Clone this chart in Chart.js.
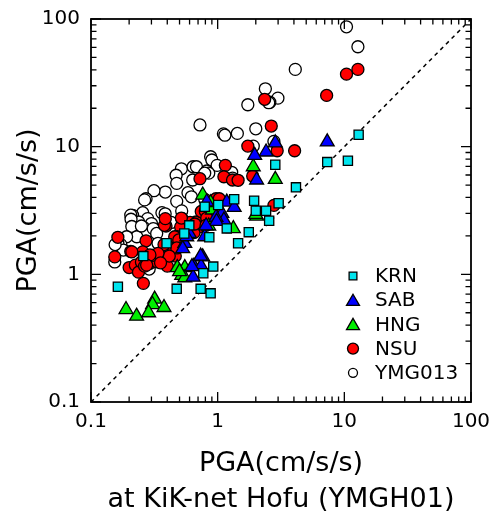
<!DOCTYPE html>
<html>
<head>
<meta charset="utf-8">
<script src="https://cdn.jsdelivr.net/npm/chart.js@4/dist/chart.umd.min.js"></script>
<style>
  html, body { margin: 0; padding: 0; background: #fff; }
  canvas { display: block; }
</style>
</head>
<body>
<canvas id="c" width="492" height="512"></canvas>
<script>
// ---- data (x = PGA at KiK-net Hofu, y = PGA at station), cm/s/s ----
const seriesNames = ['KRN', 'SAB', 'HNG', 'NSU', 'YMG013'];
const tickValues = [0.1, 1, 10, 100];
const xTitle = ['PGA(cm/s/s)', 'at KiK-net Hofu (YMGH01)'];
const yTitle = 'PGA(cm/s/s)';

const KRN = [
  [0.163,0.80],[1.35,3.87],[1.94,3.77],[2.0,3.15],[2.41,3.15],[2.55,2.63],[1.76,2.14],
  [1.45,1.75],[0.259,1.39],[0.395,1.75],[0.597,2.42],[0.545,2.09],[0.859,1.95],[0.923,1.15],
  [0.77,1.02],[0.475,0.77],[0.734,0.77],[0.88,0.71],[0.79,3.38],[1.01,3.49],[1.18,2.29],
  [2.85,7.21],[4.15,4.8],[3.03,3.6],[12.97,12.4],[10.67,7.76],[7.33,7.57]
];
const SAB = [
  [7.33,10.9],[2.85,10.7],[2.41,9.08],[1.96,8.55],[2.03,5.48],[1.18,3.68],[1.35,3.35],
  [1.08,3.0],[1.12,2.66],[0.97,2.8],[0.98,2.6],[0.597,2.09],[0.79,1.97],[0.55,1.75],
  [0.53,1.59],[0.762,1.37],[0.65,1.16],[0.74,1.16],[0.64,0.95],[0.57,1.97],[0.734,1.39],
  [0.627,1.15],[0.81,2.4],[0.82,3.7]
];
const HNG = [
  [2.85,5.55],[1.91,6.96],[2.03,2.86],[0.91,3.19],[0.762,4.18],[0.88,3.64],[1.33,2.28],
  [0.85,2.39],[0.48,1.13],[0.55,1.13],[0.52,0.98],[0.55,0.94],[0.318,0.64],[0.306,0.58],
  [0.377,0.55],[0.189,0.53],[0.229,0.47],[0.285,0.5],[0.50,1.05],[2.0,2.95]
];
const NSU = [
  [12.8,40.3],[10.4,37.0],[7.25,25.2],[4.05,9.29],[2.95,9.29],[2.65,14.5],[2.78,3.47],
  [2.35,23.5],[1.73,10.1],[1.15,7.14],[1.12,5.81],[1.31,5.48],[1.45,5.45],[0.725,5.61],
  [1.89,5.89],[0.163,1.95],[0.272,1.83],[0.154,1.37],[0.206,1.51],[0.2,1.13],[0.224,1.18],
  [0.237,1.04],[0.25,1.25],[0.292,1.22],[0.259,0.85],[0.334,1.25],[0.256,1.5],[0.265,1.16],
  [0.391,2.39],[0.307,1.41],[0.351,1.42],[0.359,1.26],[0.4,1.16],[0.463,1.39],[0.523,2.73],
  [0.51,2.35],[0.48,1.97],[0.425,1.71],[0.377,1.71],[0.458,1.97],[0.674,2.57],[0.605,2.55],
  [0.71,2.35],[0.742,3.11],[0.798,3.13],[0.97,3.91],[1.03,3.91],[0.9,2.9],[0.82,2.76],
  [0.65,2.12],[0.66,2.48],[0.81,2.42],[0.493,1.86],[0.475,1.61],[0.415,1.39],[0.338,1.46],
  [0.354,1.23],[0.292,1.42],[0.21,1.5],[0.275,1.18],[0.38,2.42],[0.386,2.73],[0.517,2.76]
];
const YMG013 = [
  [10.4,86.9],[12.8,60.6],[4.1,40.3],[2.99,24.0],[2.58,22.3],[2.38,28.4],[2.53,22.1],
  [1.73,21.3],[0.725,14.8],[1.11,12.6],[1.14,12.3],[1.43,12.7],[2.0,13.8],[2.78,11.0],
  [1.91,10.1],[0.88,8.34],[0.9,7.86],[0.99,7.14],[1.29,6.3],[1.31,5.68],[0.517,6.71],
  [0.64,6.96],[0.68,6.96],[0.82,6.45],[0.85,6.2],[0.47,5.97],[0.475,5.16],[0.635,5.48],
  [0.79,6.2],[0.386,4.41],[0.314,4.52],[0.272,3.91],[0.475,3.73],[0.583,4.36],[0.62,4.05],
  [0.265,3.83],[0.79,3.87],[0.52,3.14],[0.363,3.04],[0.385,2.98],[0.256,3.04],[0.213,2.9],
  [0.28,2.73],[0.238,2.57],[0.3,2.5],[0.26,2.33],[0.43,2.55],[0.206,2.91],[0.207,2.7],
  [0.21,2.37],[0.27,2.09],[0.31,2.28],[0.23,1.97],[0.191,1.97],[0.33,2.09],[0.172,1.71],
  [0.163,1.75],[0.18,1.55],[0.155,1.71],[0.154,1.25],[0.288,1.1],[0.338,1.75],[0.25,2.39]
];
const oneToOne = [0.1, 100];

// ---- styles ----
const FONT = 'DejaVu Sans, Verdana, sans-serif';
const styles = [
  { pointStyle: 'rect',     color: '#00E5EE', radius: 6.5, legendRadius: 5.5 },
  { pointStyle: 'triangle', color: '#0000FF', radius: 8,   legendRadius: 7.5 },
  { pointStyle: 'triangle', color: '#00EE00', radius: 8,   legendRadius: 7.5 },
  { pointStyle: 'circle',   color: '#FF0000', radius: 6,   legendRadius: 5.5 },
  { pointStyle: 'circle',   color: '#FFFFFF', radius: 6,   legendRadius: 4.5 }
];
const seriesData = [KRN, SAB, HNG, NSU, YMG013];

const toXY = arr => arr.map(p => ({ x: p[0], y: p[1] }));

const datasets = seriesData.map((d, i) => ({
  type: 'scatter',
  label: seriesNames[i],
  data: toXY(d),
  pointStyle: styles[i].pointStyle,
  pointRadius: styles[i].radius,
  pointHoverRadius: styles[i].radius,
  backgroundColor: styles[i].color,
  borderColor: '#000',
  pointBorderWidth: 1.3,
  borderWidth: 1.3
}));
datasets.push({
  type: 'line',
  label: '1:1',
  data: oneToOne.map(v => ({ x: v, y: v })),
  borderColor: '#000',
  borderWidth: 1.5,
  borderDash: [4, 4],
  pointRadius: 0,
  fill: false
});

const frameTicks = {
  id: 'frameTicks',
  afterDatasetsDraw(chart) {
    const { ctx, chartArea: { left, right, top, bottom }, scales: { x, y } } = chart;
    ctx.save();
    ctx.strokeStyle = '#000';
    ctx.lineWidth = 1.3;
    ctx.beginPath();
    [0.1, 1, 10].forEach(d => {
      for (let m = 1; m <= 10; m++) {
        const v = d * m;
        const len = (m === 1 || m === 10) ? 10 : 5.5;
        const px = x.getPixelForValue(v);
        ctx.moveTo(px, bottom); ctx.lineTo(px, bottom - len);
        ctx.moveTo(px, top); ctx.lineTo(px, top + len);
        const py = y.getPixelForValue(v);
        ctx.moveTo(left, py); ctx.lineTo(left + len, py);
        ctx.moveTo(right, py); ctx.lineTo(right - len, py);
      }
    });
    ctx.stroke();
    ctx.lineWidth = 1.8;
    ctx.strokeRect(left, top, right - left, bottom - top);
    ctx.restore();
  },
  afterDraw(chart) {
    const { ctx, chartArea: { right, bottom } } = chart;
    ctx.save();
    const mx = right - 118, tx = right - 96;
    let yy = bottom - 126;
    ctx.font = '20px ' + FONT;
    ctx.textBaseline = 'middle';
    ctx.textAlign = 'left';
    seriesNames.forEach((name, i) => {
      const s = styles[i];
      ctx.fillStyle = s.color;
      ctx.strokeStyle = '#000';
      ctx.lineWidth = 1.3;
      const oy = s.pointStyle === 'triangle' ? 1.5 : 0;
      Chart.helpers.drawPoint(ctx, { pointStyle: s.pointStyle, radius: s.legendRadius, borderWidth: 1.3, rotation: 0 }, mx, yy + oy);
      ctx.fillStyle = '#000';
      ctx.fillText(name, tx, yy + 1);
      yy += 24.2;
    });
    ctx.restore();
  }
};

const logAxis = (isX) => ({
  type: 'logarithmic',
  min: 0.1,
  max: 100,
  grid: { display: false, drawTicks: false, drawBorder: false },
  border: { display: false },
  afterBuildTicks: scale => { scale.ticks = tickValues.map(v => ({ value: v, major: true })); },
  afterFit: scale => {
    if (isX) scale.height = 110; else scale.width = 91;
    scale.paddingLeft = 0; scale.paddingRight = 0;
    scale.paddingTop = 0; scale.paddingBottom = 0;
  },
  ticks: {
    autoSkip: false,
    maxRotation: 0,
    padding: isX ? 8 : 11,
    color: '#000',
    font: { family: FONT, size: 20 },
    callback: v => String(v)
  },
  title: isX ? {
    display: true,
    text: xTitle,
    color: '#000',
    font: { family: FONT, size: 27, lineHeight: '36px' },
    padding: { top: 0, bottom: -6 }
  } : {
    display: true,
    text: yTitle,
    color: '#000',
    font: { family: FONT, size: 27, lineHeight: '32px' },
    padding: { top: 13, bottom: 0 }
  }
});

new Chart(document.getElementById('c'), {
  data: { datasets },
  options: {
    responsive: false,
    animation: false,
    devicePixelRatio: 1,
    layout: { padding: { top: 19, right: 21, left: 0, bottom: 0 } },
    plugins: { legend: { display: false }, tooltip: { enabled: false } },
    scales: { x: logAxis(true), y: logAxis(false) }
  },
  plugins: [frameTicks]
});
</script>
</body>
</html>
